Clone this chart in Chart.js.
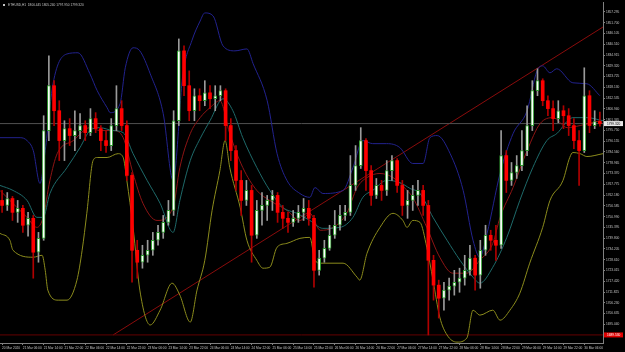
<!DOCTYPE html>
<html>
<head>
<meta charset="utf-8">
<script src="https://cdn.jsdelivr.net/npm/chart.js@4.4.0/dist/chart.umd.min.js"></script>
<style>
  html, body { margin: 0; padding: 0; background: #000; }
  canvas { display: block; }
</style>
</head>
<body>
<canvas id="priceChart" width="625" height="352"></canvas>
<script>
const titleText = 'ETHUSD,H1  1800.445 1805.240 1797.950 1799.320';

// 2-hour candles
const opens = [
  1759.4, 1756.8, 1760.4, 1753.2, 1755.3, 1746.5, 1750.1, 1732.5, 1739.7, 1795.7,
  1819.0, 1806.0, 1790.5, 1796.7, 1793.1, 1795.7, 1798.3, 1794.6, 1801.9, 1796.7,
  1790.5, 1787.9, 1798.3, 1807.1, 1798.3, 1772.4, 1733.5, 1727.3, 1730.9, 1733.5,
  1738.7, 1742.8, 1748.0, 1754.2, 1800.8, 1837.1, 1819.0, 1806.0, 1813.8, 1811.2,
  1815.3, 1812.2, 1813.8, 1816.4, 1798.3, 1785.3, 1769.8, 1759.4, 1764.6, 1741.3,
  1754.2, 1756.8, 1759.4, 1762.0, 1753.2, 1750.1, 1748.0, 1750.1, 1753.2, 1755.3,
  1750.1, 1723.1, 1729.4, 1734.5, 1741.3, 1746.5, 1751.6, 1753.2, 1767.2, 1777.5,
  1790.5, 1774.9, 1762.0, 1767.2, 1764.6, 1774.9, 1780.1, 1767.2, 1756.8, 1759.4,
  1762.0, 1764.6, 1756.8, 1728.3, 1715.4, 1708.6, 1712.8, 1714.9, 1716.9, 1719.0,
  1723.1, 1729.4, 1720.6, 1733.5, 1741.3, 1738.7, 1736.1, 1782.7, 1769.8, 1773.9,
  1777.5, 1785.3, 1798.3, 1816.4, 1821.6, 1811.2, 1807.1, 1801.9, 1806.0, 1803.4,
  1798.3, 1790.5, 1785.3, 1813.8, 1798.3, 1800.445
];
const highs = [
  1764.6, 1763.5, 1761.5, 1759.4, 1756.8, 1753.2, 1751.6, 1742.8, 1803.4, 1834.5,
  1821.6, 1811.2, 1800.8, 1801.9, 1806.0, 1804.5, 1800.8, 1807.1, 1805.0, 1798.3,
  1795.7, 1801.9, 1819.0, 1811.2, 1800.8, 1773.9, 1738.7, 1736.1, 1738.7, 1742.8,
  1746.5, 1751.6, 1759.4, 1806.0, 1843.3, 1839.7, 1826.7, 1817.4, 1817.4, 1821.6,
  1819.0, 1819.0, 1819.0, 1817.4, 1801.9, 1787.9, 1774.9, 1769.8, 1767.2, 1759.4,
  1763.5, 1762.0, 1764.6, 1763.5, 1756.8, 1753.2, 1754.2, 1756.8, 1760.4, 1759.4,
  1751.6, 1733.5, 1738.7, 1746.5, 1754.2, 1756.8, 1756.8, 1782.7, 1787.9, 1797.2,
  1791.5, 1777.5, 1770.8, 1769.8, 1780.1, 1782.7, 1781.2, 1769.8, 1764.6, 1767.2,
  1769.8, 1767.2, 1759.4, 1730.9, 1718.0, 1716.9, 1719.0, 1723.1, 1724.2, 1730.9,
  1736.1, 1730.9, 1738.7, 1746.5, 1743.9, 1746.5, 1795.7, 1785.3, 1779.1, 1782.7,
  1795.7, 1808.6, 1821.6, 1827.8, 1822.6, 1813.8, 1811.2, 1811.2, 1808.6, 1807.1,
  1801.9, 1795.7, 1828.3, 1816.4, 1806.0, 1805.240
];
const lows = [
  1753.2, 1754.2, 1749.0, 1748.0, 1742.8, 1740.8, 1719.0, 1727.3, 1738.7, 1790.5,
  1798.3, 1780.1, 1780.1, 1787.9, 1785.3, 1791.5, 1790.5, 1793.1, 1794.6, 1785.3,
  1784.3, 1785.3, 1795.7, 1795.7, 1769.8, 1716.9, 1719.0, 1724.2, 1727.3, 1730.9,
  1736.1, 1739.7, 1746.5, 1751.6, 1798.3, 1813.8, 1800.8, 1800.8, 1806.0, 1808.6,
  1807.1, 1806.0, 1811.2, 1790.5, 1780.1, 1764.6, 1751.6, 1756.8, 1727.3, 1739.7,
  1746.5, 1749.0, 1754.2, 1748.0, 1744.9, 1742.8, 1745.9, 1748.0, 1749.0, 1746.5,
  1714.3, 1720.6, 1727.3, 1733.5, 1739.7, 1743.9, 1749.0, 1751.6, 1764.6, 1776.0,
  1764.6, 1756.8, 1760.4, 1759.4, 1762.0, 1769.8, 1763.5, 1751.6, 1750.1, 1754.2,
  1756.8, 1751.6, 1689.5, 1707.6, 1698.3, 1702.4, 1707.6, 1710.2, 1711.7, 1715.4,
  1720.6, 1712.8, 1713.8, 1730.9, 1733.5, 1728.3, 1734.5, 1763.5, 1767.2, 1770.8,
  1774.9, 1782.7, 1795.7, 1813.8, 1808.6, 1803.4, 1795.7, 1799.8, 1796.7, 1793.1,
  1786.3, 1767.2, 1784.3, 1794.6, 1796.7, 1797.950
];
const closes = [
  1756.8, 1760.4, 1753.2, 1755.3, 1746.5, 1750.1, 1732.5, 1739.7, 1795.7, 1819.0,
  1806.0, 1790.5, 1796.7, 1793.1, 1795.7, 1798.3, 1794.6, 1801.9, 1796.7, 1790.5,
  1787.9, 1798.3, 1807.1, 1798.3, 1772.4, 1733.5, 1727.3, 1730.9, 1733.5, 1738.7,
  1742.8, 1748.0, 1754.2, 1800.8, 1837.1, 1819.0, 1806.0, 1813.8, 1811.2, 1815.3,
  1812.2, 1813.8, 1816.4, 1798.3, 1785.3, 1769.8, 1759.4, 1764.6, 1741.3, 1754.2,
  1756.8, 1759.4, 1762.0, 1753.2, 1750.1, 1748.0, 1750.1, 1753.2, 1755.3, 1750.1,
  1723.1, 1729.4, 1734.5, 1741.3, 1746.5, 1751.6, 1753.2, 1767.2, 1777.5, 1790.5,
  1774.9, 1762.0, 1767.2, 1764.6, 1774.9, 1780.1, 1767.2, 1756.8, 1759.4, 1762.0,
  1764.6, 1756.8, 1728.3, 1715.4, 1708.6, 1712.8, 1714.9, 1716.9, 1719.0, 1723.1,
  1729.4, 1720.6, 1733.5, 1741.3, 1738.7, 1736.1, 1782.7, 1769.8, 1773.9, 1777.5,
  1785.3, 1798.3, 1816.4, 1821.6, 1811.2, 1807.1, 1801.9, 1806.0, 1803.4, 1798.3,
  1790.5, 1785.3, 1813.8, 1798.3, 1800.4, 1799.320
];

// indicator lines, sampled at candle positions
const upperIdx = [-0.4, 3.5, 4.8, 6.0, 7.3, 8.3, 9.8, 12.5, 14.6, 16.9, 18.3, 20.2, 20.8, 22.7, 23.7, 25.2, 26.5, 28.5, 31.0, 32.9,
  34.8, 36.5, 38.1, 39.0, 40.6, 42.5, 44.8, 47.1, 48.3, 51.0, 52.9, 54.8, 57.3, 59.2, 60.2, 61.7, 65.6, 67.5, 69.4, 71.3,
  74.0, 76.5, 79.0, 81.0, 82.3, 83.7, 86.2, 88.7, 90.6, 91.9, 93.3, 95.8, 98.3, 101.0, 102.9, 104.0, 105.4, 106.7, 109.8, 112.5, 115.0];
const upperVal = [1792.0, 1792.0, 1790.5, 1785.3, 1768.2, 1785.3, 1820.0, 1835.5, 1836.1, 1825.2,
  1816.4, 1807.6, 1805.0, 1809.6, 1828.3, 1838.7, 1837.1, 1825.2, 1804.5, 1769.8,
  1825.2, 1842.3, 1852.6, 1856.8, 1855.2, 1839.7, 1837.1, 1838.1, 1830.4, 1811.2,
  1783.7, 1769.8, 1763.0, 1761.0, 1766.1, 1763.0, 1764.6, 1776.5, 1790.5, 1788.9,
  1788.9, 1786.9, 1778.6, 1778.6, 1792.0, 1793.1, 1783.7, 1764.6, 1738.7, 1729.9,
  1742.3, 1773.4, 1794.1, 1806.0, 1826.7, 1829.3, 1825.7, 1827.8, 1820.5, 1820.0, 1813.8];

const middleIdx = [-0.4, 2.1, 4.8, 6.7, 7.9, 9.2, 12.5, 15.0, 16.9, 18.8, 21.3, 23.3, 25.2, 27.9, 30.4, 32.9, 34.2, 36.2, 38.1, 40.0,
  42.5, 44.4, 46.3, 49.0, 51.5, 54.0, 56.7, 59.2, 61.7, 65.0, 67.5, 69.4, 71.3, 74.0, 76.5, 78.5, 80.4, 82.9, 85.6, 88.1,
  90.6, 91.9, 94.4, 97.1, 99.6, 102.1, 104.8, 106.7, 109.8, 112.5, 115.6];
const middleVal = [1767.2, 1764.6, 1759.4, 1750.6, 1750.6, 1763.0, 1776.5, 1786.9, 1795.7, 1797.2,
  1795.7, 1794.6, 1783.7, 1769.8, 1757.9, 1742.8, 1759.4, 1780.1, 1791.5, 1800.8,
  1812.2, 1806.0, 1792.0, 1776.5, 1764.6, 1755.8, 1752.7, 1749.0, 1744.9, 1745.4,
  1750.6, 1761.0, 1764.6, 1769.8, 1768.7, 1765.6, 1763.0, 1750.6, 1738.7, 1728.3,
  1719.5, 1716.4, 1724.7, 1740.2, 1759.4, 1776.5, 1790.5, 1794.1, 1802.4, 1802.4, 1800.8];

const maIdx = [-0.4, 1.5, 4.8, 6.7, 7.9, 9.2, 10.6, 13.7, 16.9, 18.8, 21.3, 23.3, 25.2, 27.1, 29.8, 32.9, 34.2, 36.2, 38.1, 40.0,
  41.9, 43.8, 46.3, 49.0, 51.5, 54.8, 57.3, 59.2, 61.2, 63.7, 66.3, 68.3, 70.2, 72.7, 75.2, 77.9, 79.0, 81.7, 84.2, 86.7,
  89.4, 91.9, 94.4, 95.8, 98.3, 101.0, 103.5, 106.0, 108.7, 111.2, 115.0];
const maVal = [1764.6, 1759.4, 1750.6, 1745.4, 1750.6, 1769.8, 1783.7, 1790.5, 1797.2, 1795.7,
  1795.7, 1792.0, 1773.4, 1757.9, 1749.0, 1755.8, 1776.5, 1794.1, 1802.4, 1807.6,
  1811.2, 1794.1, 1776.5, 1764.6, 1759.4, 1754.2, 1749.0, 1752.7, 1743.9, 1745.4,
  1752.7, 1766.1, 1771.3, 1773.4, 1771.3, 1764.6, 1761.0, 1745.4, 1729.9, 1721.6,
  1721.6, 1728.3, 1737.1, 1750.6, 1766.1, 1785.3, 1799.3, 1802.4, 1797.2, 1798.3, 1800.8];

const lowerIdx = [-0.4, 1.5, 2.1, 6.0, 7.7, 8.3, 8.8, 10.8, 12.5, 14.4, 15.4, 16.3, 17.5, 18.3, 20.2, 22.3, 23.3, 24.0, 25.2, 26.5,
  28.5, 30.4, 32.7, 34.2, 36.2, 37.5, 39.0, 40.4, 41.9, 42.9, 43.8, 45.8, 47.1, 49.0, 50.2, 51.5, 52.9, 54.8, 57.3, 59.2,
  60.2, 61.2, 65.6, 68.3, 68.8, 70.2, 72.7, 75.2, 77.1, 77.9, 79.0, 80.4, 81.7, 82.9, 84.2, 85.6, 87.5, 89.4, 90.6, 91.9,
  94.4, 95.8, 97.7, 99.6, 101.5, 104.0, 105.4, 107.9, 109.2, 109.8, 111.2, 112.5, 115.6];
const lowerVal = [1742.3, 1738.7, 1733.5, 1729.9, 1730.9, 1723.1, 1712.8, 1707.6, 1707.6, 1718.0,
  1733.5, 1752.7, 1780.1, 1781.7, 1781.7, 1783.7, 1781.7, 1769.8, 1745.4, 1712.8,
  1694.7, 1702.4, 1716.4, 1710.2, 1696.2, 1712.8, 1728.3, 1754.2, 1774.9, 1790.5,
  1776.5, 1755.8, 1738.7, 1728.3, 1724.2, 1724.7, 1735.1, 1737.1, 1739.7, 1740.2,
  1728.3, 1726.8, 1726.8, 1719.5, 1718.0, 1731.9, 1745.4, 1752.7, 1749.0, 1745.4,
  1749.0, 1748.0, 1735.1, 1718.0, 1698.8, 1689.5, 1685.8, 1687.9, 1702.4, 1699.8,
  1702.4, 1697.2, 1702.4, 1711.2, 1726.8, 1745.4, 1759.4, 1769.8, 1781.7, 1784.3,
  1783.7, 1782.2, 1783.7];

const bidPrice = 1799.32;
const supportLevel = 1689.53;
const trendStart = { x: 21.35, y: 1689.5 };
const trendEnd = { x: 115.6, y: 1849.5 };

const timeLabels = [
  '20 Mar 2020', '21 Mar 06:00', '21 Mar 14:00', '21 Mar 22:00', '22 Mar 06:00', '22 Mar 14:00',
  '22 Mar 22:00', '23 Mar 06:00', '23 Mar 14:00', '23 Mar 22:00', '24 Mar 06:00', '24 Mar 14:00',
  '24 Mar 22:00', '25 Mar 06:00', '25 Mar 14:00', '25 Mar 22:00', '26 Mar 06:00', '26 Mar 14:00',
  '26 Mar 22:00', '27 Mar 06:00', '27 Mar 14:00', '27 Mar 22:00', '28 Mar 06:00', '28 Mar 14:00',
  '28 Mar 22:00', '29 Mar 06:00', '29 Mar 14:00', '29 Mar 22:00', '30 Mar 06:00'
];
const priceTicks = [
  1857.295, 1851.700, 1846.105, 1840.510, 1834.915, 1829.320, 1823.725, 1818.130, 1812.535, 1806.940,
  1801.345, 1795.750, 1790.155, 1784.560, 1778.965, 1773.370, 1767.775, 1762.180, 1756.585, 1750.990,
  1745.395, 1739.800, 1734.205, 1728.610, 1723.015, 1717.420, 1711.825, 1706.230, 1700.635, 1695.040,
  1689.445
];

const TEXT = '#c4c4c4';
const AXIS = '#808080';
const FONT = '"Liberation Sans", Arial, sans-serif';

const isUp = closes.map((c, i) => c >= opens[i]);
const bodyData = closes.map((c, i) => ({ x: i, y: [opens[i], c] }));
const wickData = closes.map((c, i) => ({ x: i, y: [lows[i], highs[i]] }));
const pts = (xs, ys) => xs.map((x, i) => ({ x: x, y: ys[i] }));

function lineSet(data, color, order) {
  return {
    type: 'line',
    data: data,
    borderColor: color,
    borderWidth: 1,
    pointRadius: 0,
    fill: false,
    cubicInterpolationMode: 'monotone',
    order: order
  };
}

const overlay = {
  id: 'overlay',
  afterDraw(chart) {
    const ctx = chart.ctx;
    const y = chart.scales.y;
    const left = chart.chartArea.right + 1;
    ctx.save();
    ctx.font = '3.2px ' + FONT;
    ctx.textBaseline = 'middle';
    ctx.fillStyle = TEXT;
    ctx.fillRect(3, 4, 2, 2);
    ctx.fillText(titleText, 8, 5.5);

    const box = (value, bg, fg) => {
      const py = y.getPixelForValue(value);
      ctx.fillStyle = bg;
      ctx.fillRect(left, py - 2.5, 19, 5);
      ctx.fillStyle = fg;
      ctx.fillText(value.toFixed(3), left + 3, py + 0.2);
    };
    box(bidPrice, '#e8e8e8', '#000');
    box(supportLevel, '#e00000', '#fff');
    ctx.restore();
  }
};

Chart.defaults.font.family = FONT;

new Chart(document.getElementById('priceChart'), {
  type: 'bar',
  data: {
    datasets: [
      {
        data: bodyData,
        backgroundColor: isUp.map(u => u ? '#ffffff' : '#ff0000'),
        borderColor: isUp.map(u => u ? '#2f9a2f' : '#ff0000'),
        borderWidth: isUp.map(u => u ? 1 : 0),
        borderSkipped: false,
        barThickness: 3,
        grouped: false,
        order: 0
      },
      {
        data: wickData,
        backgroundColor: isUp.map(u => u ? '#9a9a9a' : '#b00000'),
        borderWidth: 0,
        barThickness: 1,
        grouped: false,
        order: 1
      },
      lineSet(pts(upperIdx, upperVal), '#22228e', 3),
      lineSet(pts(middleIdx, middleVal), '#1e6a6a', 3),
      lineSet(pts(maIdx, maVal), '#8e1414', 3),
      lineSet(pts(lowerIdx, lowerVal), '#8c8c1c', 3),
      lineSet([{ x: -0.4, y: bidPrice }, { x: 115.6, y: bidPrice }], '#505050', 4),
      lineSet([{ x: -0.4, y: supportLevel }, { x: 115.6, y: supportLevel }], '#640000', 4),
      lineSet([trendStart, trendEnd], '#8a0c0c', 4)
    ]
  },
  options: {
    responsive: false,
    animation: false,
    devicePixelRatio: 1,
    layout: { padding: { top: 2, left: 0, right: 0, bottom: 0 } },
    plugins: { legend: { display: false }, tooltip: { enabled: false }, title: { display: false } },
    scales: {
      x: {
        type: 'linear',
        min: -0.4,
        max: 115.6,
        offset: false,
        afterBuildTicks: scale => { scale.ticks = timeLabels.map((_, k) => ({ value: k * 4 })); },
        afterFit: scale => { scale.height = 9; },
        grid: { display: true, offset: false, drawOnChartArea: false, drawTicks: true, tickLength: 2, color: AXIS },
        border: { display: true, color: AXIS },
        ticks: {
          color: TEXT,
          font: { size: 3.2 },
          padding: 1,
          align: 'start',
          maxRotation: 0,
          autoSkip: false,
          callback: value => timeLabels[Math.round(value / 4)]
        }
      },
      y: {
        position: 'right',
        min: 1685.34,
        max: 1862.0,
        afterBuildTicks: scale => { scale.ticks = priceTicks.map(v => ({ value: v })); },
        afterFit: scale => { scale.width = 22; },
        grid: { display: true, drawOnChartArea: false, drawTicks: true, tickLength: 2, color: AXIS },
        border: { display: true, color: AXIS },
        ticks: {
          color: TEXT,
          font: { size: 3.2 },
          padding: 1,
          autoSkip: false,
          callback: value => value.toFixed(3)
        }
      }
    }
  },
  plugins: [overlay]
});
</script>
</body>
</html>
